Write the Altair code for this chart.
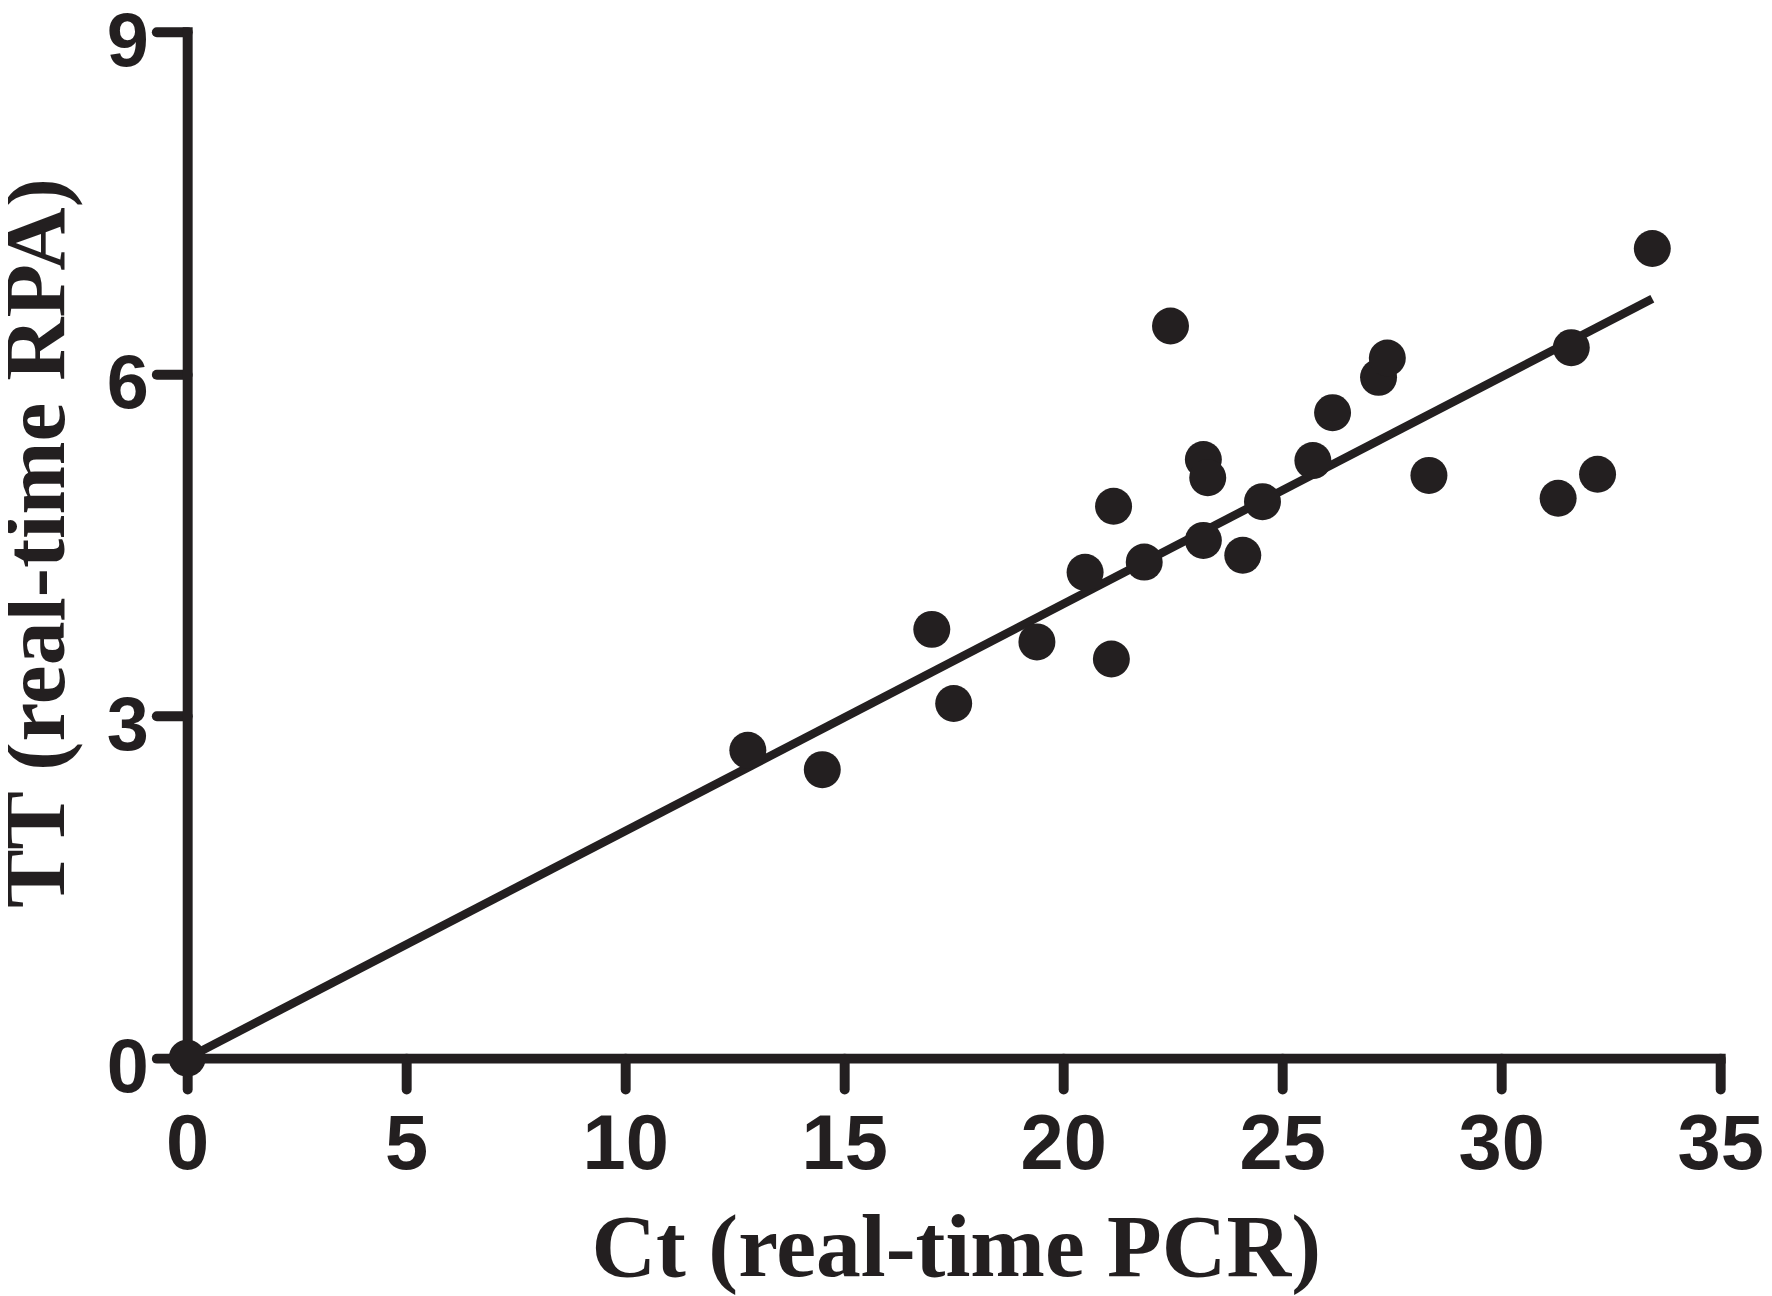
import altair as alt
import pandas as pd

ct = [0.0, 12.8, 14.5, 17.0, 17.5, 19.4, 20.5, 21.1, 21.15, 21.85, 22.45, 23.2, 23.3,
      23.2, 24.1, 24.55, 25.7, 26.15, 27.2, 27.4, 28.35, 31.3, 31.6, 32.2, 33.45]
tt = [0.0, 2.70, 2.53, 3.76, 3.11, 3.65, 4.26, 3.50, 4.84, 4.35, 6.42, 5.25, 5.09,
      4.54, 4.41, 4.88, 5.24, 5.66, 5.97, 6.14, 5.11, 4.91, 6.23, 5.12, 7.10]
fit_x = [0.0, 33.45]
fit_y = [0.0, 6.66]
x_ticks = [0, 5, 10, 15, 20, 25, 30, 35]
y_ticks = [0, 3, 6, 9]

ink = "#231f20"
pts = pd.DataFrame({"ct": ct, "tt": tt})
fit = pd.DataFrame({"ct": fit_x, "tt": fit_y})

xs = alt.Scale(domain=[0, 35], nice=False, zero=False)
ys = alt.Scale(domain=[0, 9], nice=False, zero=False)

common = dict(grid=False, domainColor=ink, domainWidth=10, tickColor=ink, tickWidth=10,
              tickSize=31, labelFont="Arial, Liberation Sans, sans-serif",
              labelFontWeight="bold", labelColor=ink, labelFlush=False, format="d",
              titleFont="Times New Roman, Liberation Serif, serif", titleFontWeight="bold",
              titleColor=ink, domainCap="square", tickCap="round")

xaxis = alt.Axis(values=x_ticks, title="Ct (real-time PCR)", labelFontSize=78,
                 labelPadding=18, titleFontSize=90, titleX=772, titleY=218,
                 titleBaseline="alphabetic", titleAlign="center", **common)
yaxis = alt.Axis(values=y_ticks, title="TT (real-time RPA)", labelFontSize=76,
                 labelPadding=8, labelBaseline="alphabetic", labelOffset=34,
                 titleFontSize=88, titleX=-124, titleY=513,
                 titleBaseline="alphabetic", titleAlign="center", titleAngle=270,
                 **common)

line = alt.Chart(fit).mark_line(color=ink, strokeWidth=8.5).encode(
    x=alt.X("ct:Q", scale=xs, axis=xaxis),
    y=alt.Y("tt:Q", scale=ys, axis=yaxis),
)
dots = alt.Chart(pts).mark_circle(color=ink, opacity=1, size=1380).encode(
    x=alt.X("ct:Q", scale=xs),
    y=alt.Y("tt:Q", scale=ys),
)

chart = (line + dots).properties(
    width=1540, height=1031,
    background="white",
    autosize=alt.AutoSizeParams(type="none"),
    padding={"left": 180, "top": 21, "right": 44, "bottom": 236},
).configure_view(strokeWidth=0, stroke="transparent")

chart.save("out.html", embed_options={"renderer": "svg", "actions": False})
